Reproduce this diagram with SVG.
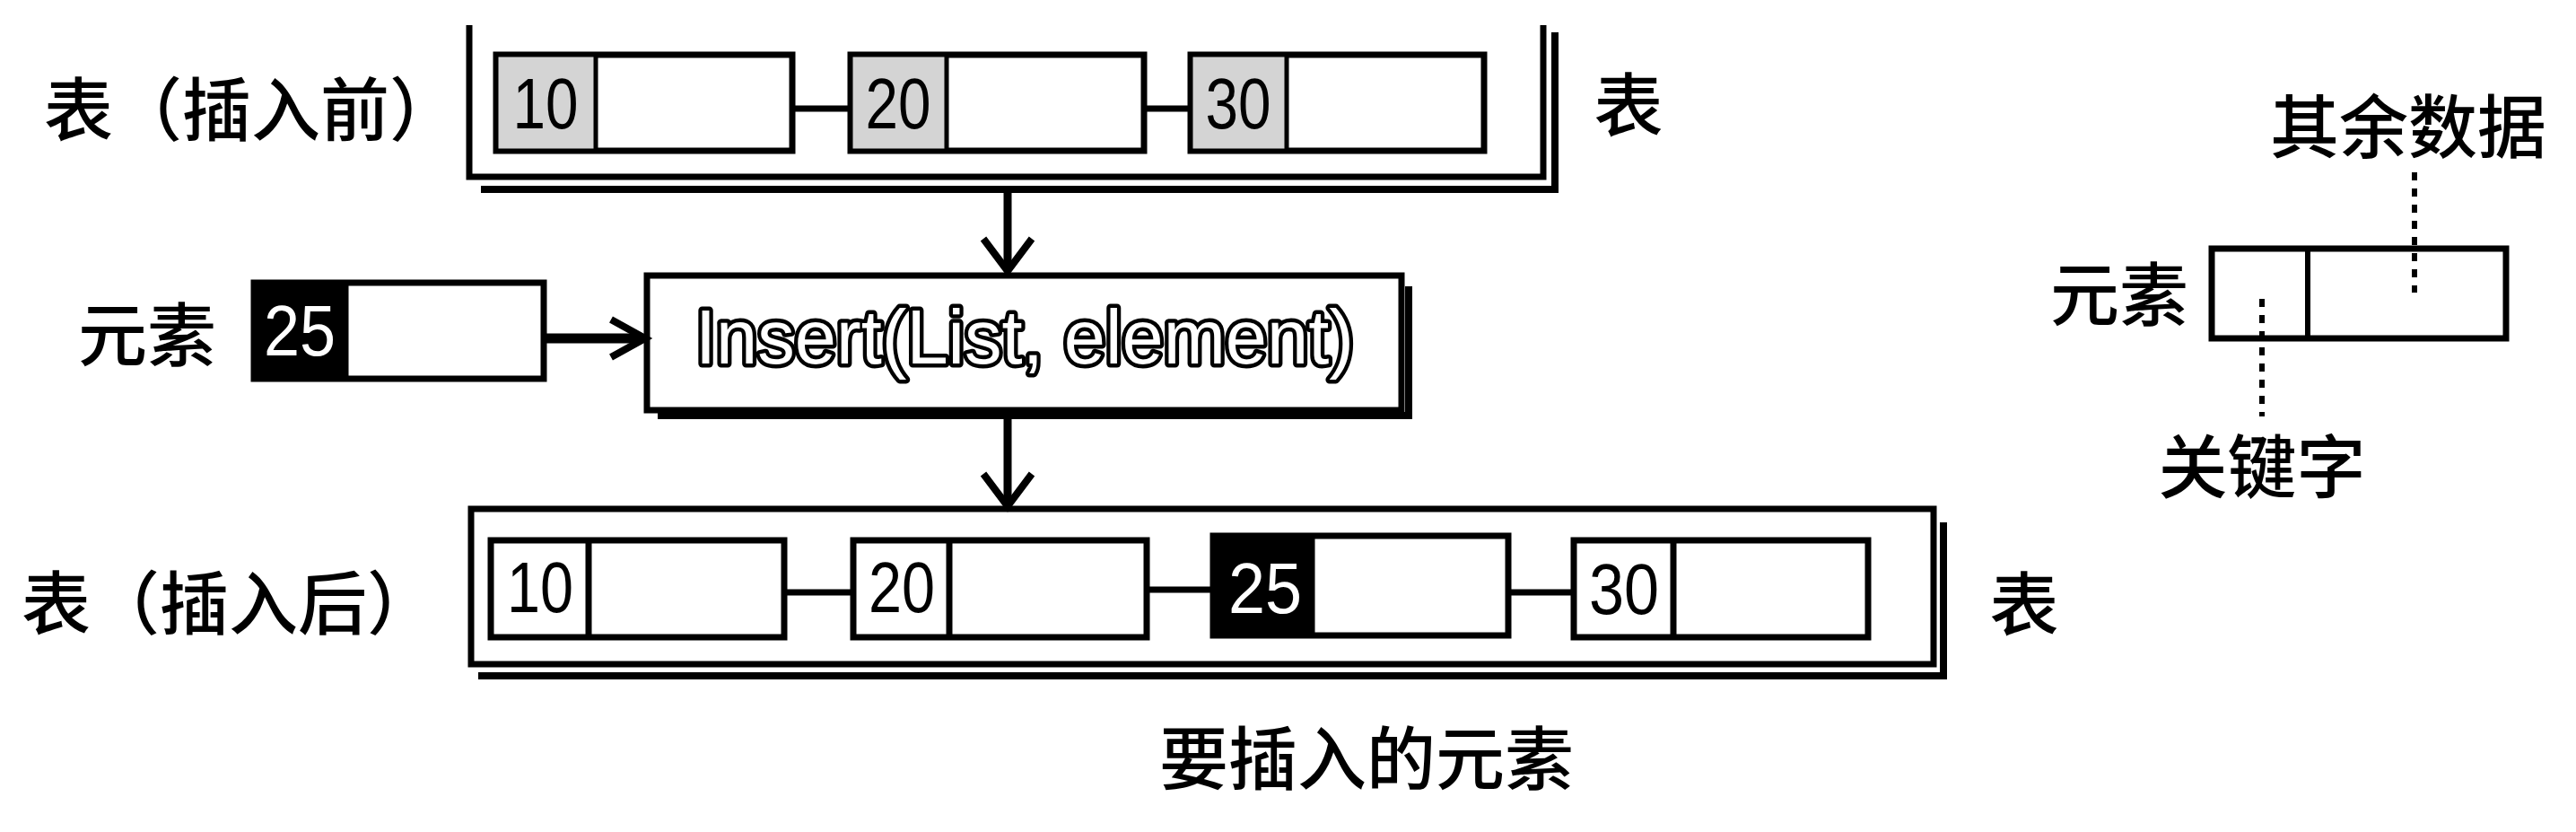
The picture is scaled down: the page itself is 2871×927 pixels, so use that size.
<svg xmlns="http://www.w3.org/2000/svg" width="2871" height="927" viewBox="0 0 2871 927">
<style>
.cjk{font-family:"Noto Sans CJK SC","Noto Sans",sans-serif;font-size:77px;font-weight:500;fill:#000;dominant-baseline:central}
.num{font-family:"Liberation Sans",Arial,sans-serif;font-size:80px;text-anchor:middle}
.blk{fill:#000}
.wht{fill:#fff}
.box{fill:#fff;stroke:#000;stroke-width:7}
.key{fill:#d4d4d4;stroke:#000;stroke-width:5}
.keyb{fill:#000;stroke:#000;stroke-width:5}
.ln{fill:none;stroke:#000;stroke-width:7}
.sh{fill:none;stroke:#000;stroke-width:8}
.dot{fill:none;stroke:#000;stroke-width:6;stroke-dasharray:9 9}
.ah{fill:none;stroke:#000;stroke-width:8;stroke-linejoin:miter}
.ins{font-family:"Liberation Sans",Arial,sans-serif;font-size:86px;fill:#fff;stroke:#000;stroke-width:9;paint-order:stroke;stroke-linejoin:round}
</style>
<rect width="2871" height="927" fill="#fff"/>

<g id="list-before">
  <path class="ln" d="M523,28 V197 H1720 V28"/>
  <path class="sh" d="M536,211 H1733 V36"/>
  <text class="cjk" x="49" y="117">表（插入前）</text>
  <text class="cjk" x="1815" y="112" text-anchor="middle">表</text>
</g>

<g id="node-10-before">
  <rect class="box" x="553" y="61" width="330" height="107"/>
  <rect class="key" x="553" y="61" width="111" height="107"/>
  <text class="num blk" x="608" y="143" textLength="73" lengthAdjust="spacingAndGlyphs">10</text>
</g>
<g id="node-20-before">
  <rect class="box" x="948" y="61" width="327" height="107"/>
  <rect class="key" x="948" y="61" width="107" height="107"/>
  <text class="num blk" x="1001" y="143" textLength="73" lengthAdjust="spacingAndGlyphs">20</text>
</g>
<g id="node-30-before">
  <rect class="box" x="1327" y="61" width="327" height="107"/>
  <rect class="key" x="1327" y="61" width="107" height="107"/>
  <text class="num blk" x="1380" y="143" textLength="73" lengthAdjust="spacingAndGlyphs">30</text>
</g>

<g id="element">
  <text class="cjk" x="87" y="368">元素</text>
  <rect class="box" x="283" y="315" width="323" height="107"/>
  <rect class="keyb" x="283" y="315" width="103" height="107"/>
  <text class="num wht" x="334" y="396" textLength="80" lengthAdjust="spacingAndGlyphs">25</text>
</g>

<g id="insert">
  <path class="sh" d="M733,463 H1570 V319"/>
  <rect class="box" x="721" y="307" width="841" height="150"/>
  <text class="ins" x="775" y="405" textLength="734" lengthAdjust="spacingAndGlyphs">Insert(List, element)</text>
</g>

<g id="list-after">
  <rect class="ln" x="525" y="567" width="1630" height="173"/>
  <path class="sh" d="M533,753 H2166 V582"/>
  <text class="cjk" x="24" y="667">表（插入后）</text>
  <text class="cjk" x="2256" y="668" text-anchor="middle">表</text>
</g>

<g id="node-10-after">
  <rect class="box" x="547" y="602" width="327" height="108"/>
  <line class="ln" x1="656" y1="602" x2="656" y2="710"/>
  <text class="num blk" x="602" y="682" textLength="74" lengthAdjust="spacingAndGlyphs">10</text>
</g>
<g id="node-20-after">
  <rect class="box" x="951" y="602" width="327" height="108"/>
  <line class="ln" x1="1058" y1="602" x2="1058" y2="710"/>
  <text class="num blk" x="1005" y="682" textLength="74" lengthAdjust="spacingAndGlyphs">20</text>
</g>
<g id="node-25-after">
  <rect class="box" x="1352" y="597" width="329" height="111"/>
  <rect class="keyb" x="1352" y="597" width="111" height="111"/>
  <text class="num wht" x="1410" y="683" textLength="82" lengthAdjust="spacingAndGlyphs">25</text>
</g>
<g id="node-30-after">
  <rect class="box" x="1754" y="602" width="328" height="108"/>
  <line class="ln" x1="1865" y1="602" x2="1865" y2="710"/>
  <text class="num blk" x="1810" y="684" textLength="78" lengthAdjust="spacingAndGlyphs">30</text>
</g>

<g id="caption">
  <text class="cjk" x="1523" y="840" text-anchor="middle">要插入的元素</text>
</g>

<g id="legend">
  <text class="cjk" x="2684" y="136" text-anchor="middle">其余数据</text>
  <text class="cjk" x="2362" y="323" text-anchor="middle">元素</text>
  <rect class="box" x="2465" y="277" width="328" height="100"/>
  <line class="ln" x1="2572" y1="277" x2="2572" y2="377" style="stroke-width:6"/>
  <text class="cjk" x="2521" y="515" text-anchor="middle">关键字</text>
</g>

<g id="connectors">
  <line class="ln" x1="883" y1="121" x2="948" y2="121"/>
  <line class="ln" x1="1275" y1="121" x2="1327" y2="121"/>
  <line class="ln" x1="874" y1="660" x2="951" y2="660"/>
  <line class="ln" x1="1278" y1="657" x2="1352" y2="657"/>
  <line class="ln" x1="1681" y1="660" x2="1754" y2="660"/>
  <line class="ln" x1="1123" y1="215" x2="1123" y2="300" style="stroke-width:9"/>
  <polyline class="ah" points="1096,266 1123,302 1150,266"/>
  <line class="ln" x1="1123" y1="463" x2="1123" y2="562" style="stroke-width:9"/>
  <polyline class="ah" points="1096,528 1123,564 1150,528"/>
  <line class="ln" x1="606" y1="377" x2="716" y2="377" style="stroke-width:11"/>
  <polyline class="ah" points="681,356 719,377 681,398"/>
  <line class="dot" x1="2691" y1="192" x2="2691" y2="326"/>
  <line class="dot" x1="2521" y1="333" x2="2521" y2="464"/>
</g>
</svg>
